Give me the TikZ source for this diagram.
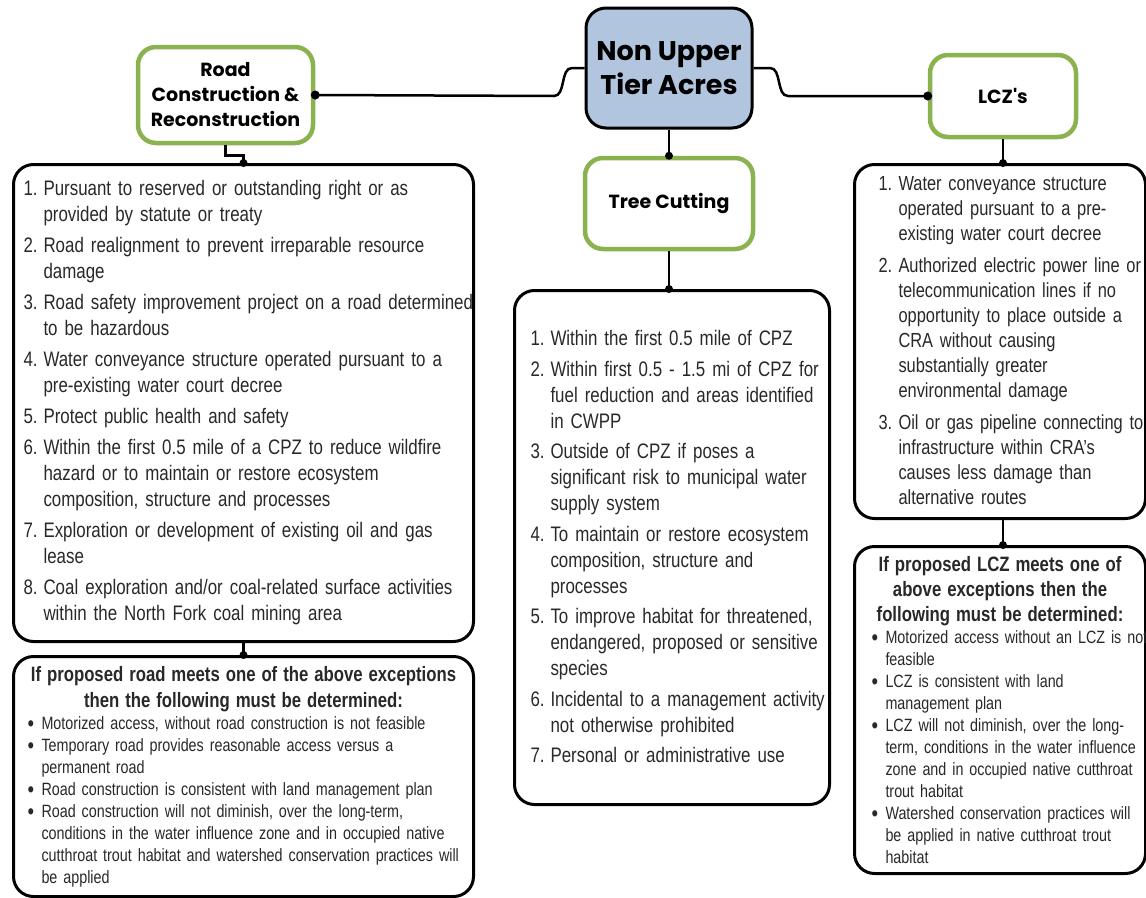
\documentclass[tikz,border=0pt]{standalone}
\usepackage{fontspec}
\setmainfont{Liberation Sans}[FakeStretch=0.805,WordSpace=0.8]
\newfontfamily\titlefont{Poppins}
\usepackage{enumitem}
\usetikzlibrary{calc}
\definecolor{leafgreen}{RGB}{138,178,78}
\definecolor{hubblue}{RGB}{178,197,222}
\definecolor{inkgray}{RGB}{40,40,40}
\newcommand{\bigdot}{\raisebox{-2pt}{\scalebox{1.3}{\textbullet}}}

\begin{document}
\begin{tikzpicture}[x=1pt,y=-1pt,
  hubbox/.style={draw=black,line width=3pt,fill=hubblue,rounded corners=20pt,
    minimum width=166pt,minimum height=120pt,inner sep=0pt,align=center,
    font=\titlefont\bfseries\fontsize{27}{34}\selectfont},
  topicbox/.style={draw=leafgreen,line width=4.5pt,fill=white,rounded corners=18pt,
    inner sep=0pt,align=center,font=\titlefont\bfseries\fontsize{19}{25}\selectfont},
  listbox/.style={draw=black,line width=3pt,rounded corners=20pt,anchor=north west,
    inner xsep=3pt,inner ysep=0pt,text=inkgray,font=\fontsize{21}{26}\selectfont},
  conn/.style={line width=2.5pt},
  jdot/.style={fill=black}
]
\useasboundingbox (0,0) rectangle (1146,897);

% top row
\node[hubbox] (hub) at (669,68) {Non Upper\\Tier Acres};
\node[topicbox,minimum width=175pt,minimum height=96pt] (road) at (225.5,95)
  {Road\\Construction \&\\Reconstruction};
\node[topicbox,minimum width=168pt,minimum height=91pt] (tree) at (669,203.5) {Tree Cutting};
\node[topicbox,minimum width=146pt,minimum height=82pt] (lcz) at (1003,96) {LCZ's};

% exception lists
\node[listbox,minimum width=460pt,minimum height=477pt,text width=454pt] (rlist) at (12,163) {%
\begin{enumerate}[label=\arabic*.,leftmargin=27pt,labelwidth=15pt,labelsep=5pt,align=left,
  itemsep=5pt,parsep=0pt,topsep=0pt,partopsep=0pt,rightmargin=-30pt]
\item Pursuant to reserved or outstanding right or as\\provided by statute or treaty
\item Road realignment to prevent irreparable resource\\damage
\item Road safety improvement project on a road determined\\to be hazardous
\item Water conveyance structure operated pursuant to a\\pre-existing water court decree
\item Protect public health and safety
\item Within the first 0.5 mile of a CPZ to reduce wildfire\\hazard or to maintain or restore ecosystem\\composition, structure and processes
\item Exploration or development of existing oil and gas\\lease
\item Coal exploration and/or coal-related surface activities\\within the North Fork coal mining area
\end{enumerate}\vspace{12pt}};

\node[listbox,minimum width=315pt,minimum height=514pt,text width=309pt] (tlist) at (513,289) {%
\begin{enumerate}[label=\arabic*.,leftmargin=33pt,labelwidth=15pt,labelsep=5pt,align=left,
  itemsep=4.5pt,parsep=0pt,topsep=0pt,partopsep=0pt,rightmargin=-30pt]
\item Within the first 0.5 mile of CPZ
\item Within first 0.5 - 1.5 mi of CPZ for\\fuel reduction and areas identified\\in CWPP
\item Outside of CPZ if poses a\\significant risk to municipal water\\supply system
\item To maintain or restore ecosystem\\composition, structure and\\processes
\item To improve habitat for threatened,\\endangered, proposed or sensitive\\species
\item Incidental to a management activity\\not otherwise prohibited
\item Personal or administrative use
\end{enumerate}\vspace{12pt}};

\node[listbox,minimum width=291pt,minimum height=354pt,text width=285pt,
  font=\fontsize{20.4}{25}\selectfont] (llist) at (853,163) {%
\begin{enumerate}[label=\arabic*.,leftmargin=41pt,labelwidth=15pt,labelsep=5pt,align=left,
  itemsep=7pt,parsep=0pt,topsep=0pt,partopsep=0pt,rightmargin=-30pt]
\item Water conveyance structure\\operated pursuant to a pre-\\existing water court decree
\item Authorized electric power line or\\telecommunication lines if no\\opportunity to place outside a\\CRA without causing\\substantially greater\\environmental damage
\item Oil or gas pipeline connecting to\\infrastructure within CRA's\\causes less damage than\\alternative routes
\end{enumerate}\vspace{13pt}};

% determinations
\node[listbox,minimum width=460pt,minimum height=240pt,text width=454pt,
  font=\fontsize{17.8}{22}\selectfont] (rcond) at (12,655) {%
{\centering\bfseries\fontsize{20.8}{26}\selectfont If proposed road meets one of the above exceptions\\then the following must be determined:\par}
\begin{itemize}[label=\bigdot,leftmargin=25pt,labelwidth=9pt,labelsep=5pt,align=left,
  itemsep=0pt,parsep=0pt,topsep=0pt,partopsep=0pt,rightmargin=-30pt]
\item Motorized access, without road construction is not feasible
\item Temporary road provides reasonable access versus a\\permanent road
\item Road construction is consistent with land management plan
\item Road construction will not diminish, over the long-term,\\conditions in the water influence zone and in occupied native\\cutthroat trout habitat and watershed conservation practices will\\be applied
\end{itemize}};

\node[listbox,minimum width=291pt,minimum height=327pt,text width=285pt,
  font=\fontsize{17.8}{22}\selectfont] (lcond) at (853,545) {%
{\centering\bfseries\fontsize{20.8}{25}\selectfont If proposed LCZ meets one of\\above exceptions then the\\following must be determined:\par}
\begin{itemize}[label=\bigdot,leftmargin=28pt,labelwidth=9pt,labelsep=5pt,align=left,
  itemsep=0pt,parsep=0pt,topsep=0pt,partopsep=0pt,rightmargin=-30pt]
\item Motorized access without an LCZ is not\\feasible
\item LCZ is consistent with land\\management plan
\item LCZ will not diminish, over the long-\\term, conditions in the water influence\\zone and in occupied native cutthroat\\trout habitat
\item Watershed conservation practices will\\be applied in native cutthroat trout\\habitat
\end{itemize}};

% connectors
\coordinate (lknee) at (554,96);
\coordinate (lneck) at (572,68);
\coordinate (rneck) at (770,68);
\coordinate (rknee) at (788,96);
\draw[conn] (road.east) -- (lknee) .. controls +(12,0) and +(-12,0) .. (lneck) -- (hub.west);
\draw[conn] (hub.east) -- (rneck) .. controls +(12,0) and +(-12,0) .. (rknee) -- (lcz.west);
\draw[conn] (hub.south) -- (tree.north);
\draw[conn] (tree.south) -- (tlist.north -| tree.south);
\draw[conn] (road.south) -- ++(0,10) -| (rlist.north);
\draw[conn] (lcz.south) -- (lcz.south |- llist.north);
\draw[conn] (rlist.south) -- (rcond.north);
\draw[conn] (llist.south -| lcz.south) -- (lcz.south |- lcond.north);

\fill[jdot] (road.east) circle (4.5pt);
\fill[jdot] (lcz.west) circle (4.5pt);
\fill[jdot] (tree.north) circle (4pt);
\fill[jdot] (tlist.north -| tree.south) circle (4pt);
\fill[jdot] (rlist.north) circle (4pt);
\fill[jdot] (lcz.south |- llist.north) circle (4pt);
\fill[jdot] (rcond.north) circle (4pt);
\fill[jdot] (lcz.south |- lcond.north) circle (4pt);
\end{tikzpicture}
\end{document}
